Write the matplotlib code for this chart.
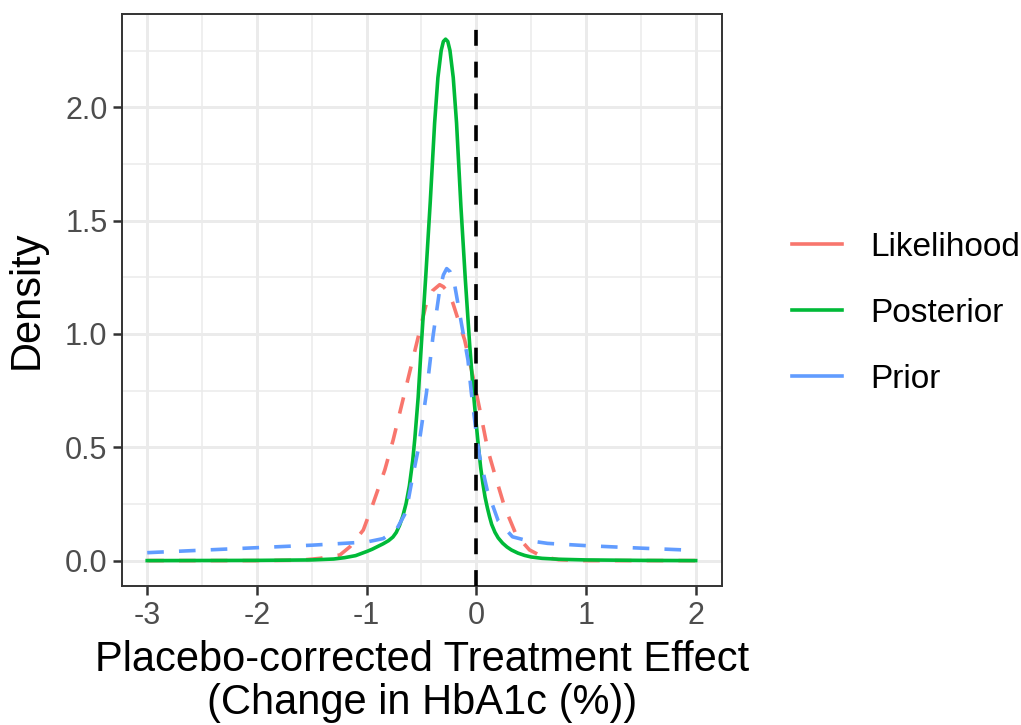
import matplotlib
matplotlib.use("Agg")
import matplotlib.pyplot as plt
from matplotlib.lines import Line2D

plt.rcParams["font.family"] = ["Liberation Sans", "DejaVu Sans"]

# Density curves (treatment effect, density)
lik_x = [-3.0, -2.0, -1.6, -1.425, -1.243, -1.152, -1.03, -0.94, -0.834, -0.758,
         -0.60, -0.455, -0.40, -0.334, -0.30, -0.25, -0.213, -0.106, -0.03, 0.045,
         0.105, 0.166, 0.257, 0.364, 0.485, 0.605, 0.75, 1.0, 2.0]
lik_y = [0.0, 0.0, 0.002, 0.010, 0.025, 0.061, 0.135, 0.253, 0.40, 0.532,
         0.846, 1.135, 1.19, 1.217, 1.208, 1.18, 1.135, 0.973, 0.811, 0.635,
         0.488, 0.385, 0.238, 0.113, 0.047, 0.017, 0.004, 0.0, 0.0]

post_x = [-3.0, -2.0, -1.5, -1.3, -1.2, -1.1, -1.0, -0.95, -0.9, -0.85, -0.8,
          -0.76, -0.73, -0.70, -0.67, -0.64, -0.61, -0.58, -0.56, -0.53, -0.50,
          -0.46, -0.42, -0.38, -0.35, -0.32, -0.30, -0.28, -0.26, -0.24, -0.21,
          -0.18, -0.14, -0.10, -0.06, -0.03, 0.00, 0.02, 0.04, 0.06, 0.08,
          0.10, 0.12, 0.14, 0.17, 0.20, 0.24, 0.28, 0.32, 0.38, 0.44,
          0.50, 0.60, 0.75, 1.0, 1.5, 2.0]
post_y = [0.000, 0.001, 0.003, 0.007, 0.013, 0.022, 0.040, 0.050, 0.062, 0.074, 0.088,
          0.104, 0.124, 0.155, 0.196, 0.252, 0.330, 0.44, 0.54, 0.72, 0.96,
          1.26, 1.58, 1.93, 2.13, 2.25, 2.29, 2.30, 2.29, 2.25, 2.13,
          1.93, 1.56, 1.24, 0.95, 0.76, 0.60, 0.50, 0.41, 0.34, 0.28,
          0.235, 0.195, 0.160, 0.125, 0.100, 0.077, 0.060, 0.047, 0.033, 0.023,
          0.016, 0.010, 0.006, 0.003, 0.001, 0.000]

prior_x = [-3.0, -2.5, -2.0, -1.5, -1.0, -0.85, -0.73, -0.64, -0.59, -0.53,
           -0.455, -0.395, -0.334, -0.30, -0.27, -0.24, -0.20, -0.136, -0.076, -0.045,
           0.0, 0.03, 0.10, 0.20, 0.33, 0.45, 0.65, 1.0, 1.5, 2.0]
prior_y = [0.035, 0.046, 0.057, 0.068, 0.082, 0.097, 0.135, 0.215, 0.345, 0.49,
           0.738, 0.988, 1.194, 1.26, 1.288, 1.275, 1.223, 1.047, 0.885, 0.74,
           0.56, 0.46, 0.31, 0.175, 0.105, 0.090, 0.076, 0.066, 0.055, 0.045]

series_names = ["Likelihood", "Posterior", "Prior"]
series_colors = ["#F8766D", "#00BA38", "#619CFF"]

x_ticks = [-3, -2, -1, 0, 1, 2]
y_ticks = [0.0, 0.5, 1.0, 1.5, 2.0]

fig = plt.figure(figsize=(10.21, 7.25), dpi=100)
ax = fig.add_axes([122 / 1021, 1 - 586 / 725, 600 / 1021, 572 / 725])

grid_col = "#EBEBEB"
for v in [-2.5, -1.5, -0.5, 0.5, 1.5]:
    ax.axvline(v, color=grid_col, lw=1.1, zorder=0)
for v in [0.25, 0.75, 1.25, 1.75, 2.25]:
    ax.axhline(v, color=grid_col, lw=1.1, zorder=0)
for v in x_ticks:
    ax.axvline(v, color=grid_col, lw=2.1, zorder=0)
for v in y_ticks:
    ax.axhline(v, color=grid_col, lw=2.1, zorder=0)

lw = 2.6
dash = (4.6, 4.2)
ax.plot(lik_x, lik_y, color=series_colors[0], lw=lw, dashes=dash, zorder=2)
ax.plot(post_x, post_y, color=series_colors[1], lw=lw, zorder=2,
        solid_joinstyle="round")
ax.plot(prior_x, prior_y, color=series_colors[2], lw=lw, dashes=dash, zorder=2)
ax.axvline(0, color="black", lw=2.6, dashes=(4.4, 4.4), zorder=3)

ax.set_xlim(-3.23, 2.24)
ax.set_ylim(-0.112, 2.411)
ax.set_xticks(x_ticks)
ax.set_xticklabels([str(t) for t in x_ticks])
ax.set_yticks(y_ticks)
ax.set_yticklabels([f"{t:.1f}" for t in y_ticks])

for s in ax.spines.values():
    s.set_color("#333333")
    s.set_linewidth(1.4)

ax.tick_params(axis="both", length=6.5, width=1.8, color="#333333",
               labelcolor="#4D4D4D", labelsize=22, pad=4)

ax.set_ylabel("Density", fontsize=30, color="black", labelpad=13)
ax.set_xlabel("Placebo-corrected Treatment Effect\n(Change in HbA1c (%))",
              fontsize=30, color="black", labelpad=7, linespacing=1.08)

handles = [Line2D([0], [0], color=c, lw=lw) for c in series_colors]
leg = fig.legend(handles, series_names, loc="center left",
                 bbox_to_anchor=(792 / 1021, 1 - 313 / 725),
                 frameon=False, fontsize=24, handlelength=1.5,
                 handletextpad=0.85, labelspacing=1.05, borderaxespad=0,
                 borderpad=0)

fig.savefig("out.png", dpi=100, facecolor="white")
